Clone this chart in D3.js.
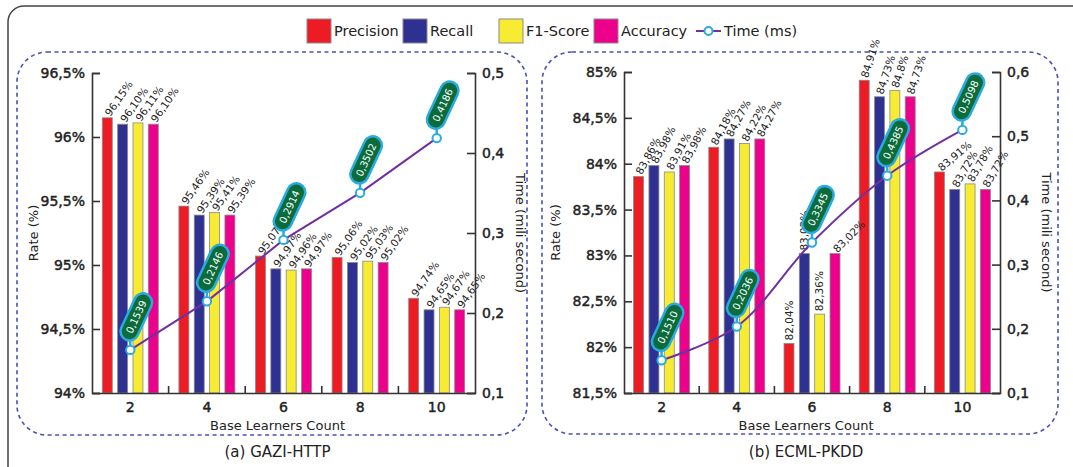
<!DOCTYPE html>
<html>
<head>
<meta charset="utf-8">
<script src="https://cdn.jsdelivr.net/npm/d3@7/dist/d3.min.js"></script>
<style>
  html, body { margin: 0; padding: 0; background: #fff; }
  svg { display: block; }
  text { font-family: "DejaVu Sans", sans-serif; fill: #222; }
</style>
</head>
<body>
<svg id="chart" width="1073" height="467"></svg>
<script>
// ---- data ----
const categories = ["2", "4", "6", "8", "10"];
const seriesNames = ["Precision", "Recall", "F1-Score", "Accuracy"];
const seriesColors = ["#ed1c24", "#2e3192", "#f7ec31", "#ec008c"];

// GAZI-HTTP (values as printed, comma decimal)
const gaziPrecision = ["96,15", "95,46", "95,07", "95,06", "94,74"];
const gaziRecall    = ["96,10", "95,39", "94,97", "95,02", "94,65"];
const gaziF1        = ["96,11", "95,41", "94,96", "95,03", "94,67"];
const gaziAccuracy  = ["96,10", "95,39", "94,97", "95,02", "94,65"];
const gaziTime      = [0.1539, 0.2146, 0.2914, 0.3502, 0.4186];

// ECML-PKDD
const ecmlPrecision = ["83,86", "84,18", "82,04", "84,91", "83,91"];
const ecmlRecall    = ["83,98", "84,27", "83,02", "84,73", "83,72"];
const ecmlF1        = ["83,91", "84,22", "82,36", "84,8",  "83,78"];
const ecmlAccuracy  = ["83,98", "84,27", "83,02", "84,73", "83,72"];
const ecmlTime      = [0.1510, 0.2036, 0.3345, 0.4385, 0.5098];

// axis ticks
const gaziRateTicks = [94, 94.5, 95, 95.5, 96, 96.5];
const gaziTimeTicks = [0.1, 0.2, 0.3, 0.4, 0.5];
const ecmlRateTicks = [81.5, 82, 82.5, 83, 83.5, 84, 84.5, 85];
const ecmlTimeTicks = [0.1, 0.2, 0.3, 0.4, 0.5, 0.6];

// ---- helpers ----
const parseVal = s => +s.replace(",", ".");
const pctFmt = v => String(v).replace(".", ",") + "%";
const timeTickFmt = v => d3.format(".1f")(v).replace(".", ",");
const timeLabelFmt = v => d3.format(".4f")(v).replace(".", ",");

const svg = d3.select("#chart");

// outer frame
svg.append("rect")
  .attr("x", 8).attr("y", 6).attr("width", 1090).attr("height", 490)
  .attr("rx", 16).attr("fill", "none").attr("stroke", "#444").attr("stroke-width", 1.5);

function drawPanel(cfg) {
  const g = svg.append("g");
  const x = d3.scaleBand().domain(categories).range([cfg.x0, cfg.x1]);
  const y = d3.scaleLinear().domain(cfg.rateDomain).range([cfg.yBottom, cfg.yTop]);
  const yT = d3.scaleLinear().domain(cfg.timeDomain).range([cfg.yBottom, cfg.yTop]);
  const sub = d3.scaleBand().domain(seriesNames).range([-28, 28]).paddingInner(0.35);

  // dashed panel box
  g.append("rect")
    .attr("x", cfg.box[0]).attr("y", cfg.box[1])
    .attr("width", cfg.box[2]).attr("height", cfg.box[3])
    .attr("rx", 30).attr("fill", "none")
    .attr("stroke", "#4a4fb8").attr("stroke-width", 1.6)
    .attr("stroke-dasharray", "4,3.5");

  // bars
  const series = cfg.series;
  const rows = [];
  categories.forEach((c, i) => {
    seriesNames.forEach((s, j) => {
      rows.push({ c, i, j, s, text: series[j][i], v: parseVal(series[j][i]) });
    });
  });
  const cx = c => x(c) + x.bandwidth() / 2;

  g.append("g").selectAll("rect").data(rows).join("rect")
    .attr("x", d => cx(d.c) + sub(d.s))
    .attr("y", d => y(d.v))
    .attr("width", sub.bandwidth())
    .attr("height", d => cfg.yBottom - y(d.v))
    .attr("fill", d => seriesColors[d.j])
    .attr("stroke", "#8a8a8a").attr("stroke-width", 0.8);

  // value labels above bars
  const fs = 10.5;
  g.append("g").selectAll("text").data(rows).join("text")
    .attr("font-size", fs)
    .attr("transform", d => {
      const a = cfg.angles[d.i][d.j];
      const r = a * Math.PI / 180;
      const vx = Math.sin(r), vy = -Math.cos(r);
      const bx = cx(d.c) + sub(d.s) + sub.bandwidth() / 2 - 0.35 * fs * vx;
      const by = y(d.v) - 3 - 0.35 * fs * vy;
      return `translate(${bx},${by}) rotate(${a})`;
    })
    .text(d => d.text + "%");

  // axes (value-axis ticks point inward)
  const axisL = g.append("g").attr("transform", `translate(${cfg.x0},0)`)
    .call(d3.axisLeft(y).tickValues(cfg.rateTicks).tickFormat(pctFmt).tickSizeOuter(0).tickSize(-8).tickPadding(7));
  const axisR = g.append("g").attr("transform", `translate(${cfg.x1},0)`)
    .call(d3.axisRight(yT).tickValues(cfg.timeTicks).tickFormat(timeTickFmt).tickSizeOuter(0).tickSize(-8).tickPadding(7));
  const axisB = g.append("g").attr("transform", `translate(0,${cfg.yBottom})`)
    .call(d3.axisBottom(x).tickSize(0).tickSizeOuter(0).tickPadding(9));
  [axisL, axisR, axisB].forEach(a => {
    a.selectAll("path.domain").attr("stroke", "#333").attr("stroke-width", 1.6);
    a.selectAll(".tick line").attr("stroke", "#333").attr("stroke-width", 1.6);
    a.selectAll(".tick text").attr("font-size", 14)
      .attr("font-family", "DejaVu Sans, sans-serif").attr("fill", "#222")
      .attr("stroke", "#222").attr("stroke-width", 0.45);
  });
  // inward boundary ticks between categories
  g.append("g").selectAll("line").data(categories.slice(1)).join("line")
    .attr("x1", c => x(c)).attr("x2", c => x(c))
    .attr("y1", cfg.yBottom).attr("y2", cfg.yBottom - 7)
    .attr("stroke", "#333").attr("stroke-width", 1.6);

  // axis titles
  g.append("text")
    .attr("transform", `translate(${cfg.rateTitleX},${(cfg.yTop + cfg.yBottom) / 2}) rotate(-90)`)
    .attr("text-anchor", "middle").attr("font-size", 13).text("Rate (%)");
  g.append("text")
    .attr("transform", `translate(${cfg.timeTitleX},${(cfg.yTop + cfg.yBottom) / 2}) rotate(90)`)
    .attr("text-anchor", "middle").attr("font-size", 13).text("Time (mili second)");
  g.append("text")
    .attr("x", (cfg.x0 + cfg.x1) / 2 - 6).attr("y", cfg.yBottom + 37)
    .attr("text-anchor", "middle").attr("font-size", 13).text("Base Learners Count");
  g.append("text")
    .attr("x", (cfg.x0 + cfg.x1) / 2 - 6).attr("y", cfg.yBottom + 64)
    .attr("text-anchor", "middle").attr("font-size", 15).text(cfg.title);

  // time line
  const pts = categories.map((c, i) => ({ c, t: cfg.time[i] }));
  const line = d3.line().x(d => cx(d.c)).y(d => yT(d.t)).curve(cfg.curve);
  g.append("path").datum(pts).attr("d", line)
    .attr("fill", "none").attr("stroke", "#7030a0").attr("stroke-width", 2);

  // callout stems, markers and value pills
  const callouts = g.append("g").selectAll("g").data(pts).join("g")
    .attr("transform", d => `translate(${cx(d.c)},${yT(d.t)})`);
  callouts.append("line").attr("x1", 0).attr("x2", 0).attr("y1", 0).attr("y2", -14)
    .attr("stroke", "#29abe2").attr("stroke-width", 2.5);
  callouts.append("circle").attr("r", 4.2)
    .attr("fill", "#fff").attr("stroke", "#29abe2").attr("stroke-width", 2);
  const pill = callouts.append("g").attr("transform", "translate(6,-33) rotate(-65)");
  pill.append("rect").attr("x", -25).attr("y", -9).attr("width", 50).attr("height", 18)
    .attr("rx", 9).attr("fill", "#0a6b3b").attr("stroke", "#29abe2").attr("stroke-width", 2.5);
  pill.append("text").attr("text-anchor", "middle").attr("dy", "0.35em")
    .attr("font-size", 10).style("fill", "#fff").text(d => timeLabelFmt(d.t));
}

const uniform = categories.map(() => seriesNames.map(() => -55));

drawPanel({
  title: "(a) GAZI-HTTP",
  x0: 92, x1: 475, yTop: 73, yBottom: 393,
  rateDomain: [94, 96.5], timeDomain: [0.1, 0.5],
  rateTicks: gaziRateTicks, timeTicks: gaziTimeTicks,
  series: [gaziPrecision, gaziRecall, gaziF1, gaziAccuracy],
  time: gaziTime, curve: d3.curveLinear,
  angles: uniform,
  box: [17, 52, 510, 383],
  rateTitleX: 38, timeTitleX: 516
});

drawPanel({
  title: "(b) ECML-PKDD",
  x0: 624, x1: 1000, yTop: 72, yBottom: 393,
  rateDomain: [81.5, 85], timeDomain: [0.1, 0.6],
  rateTicks: ecmlRateTicks, timeTicks: ecmlTimeTicks,
  series: [ecmlPrecision, ecmlRecall, ecmlF1, ecmlAccuracy],
  time: ecmlTime, curve: d3.curveCatmullRom,
  angles: [
    [-62, -62, -62, -62],
    [-62, -62, -62, -62],
    [-90, -90, -90, -45],
    [-72, -72, -72, -72],
    [-40, -60, -60, -60]
  ],
  box: [542, 52, 516, 382],
  rateTitleX: 560, timeTitleX: 1042
});

// legend
const legend = svg.append("g");
const legendX = [307, 403, 499, 594];
seriesNames.forEach((s, i) => {
  legend.append("rect").attr("x", legendX[i]).attr("y", 19).attr("width", 24).attr("height", 24)
    .attr("fill", seriesColors[i]).attr("stroke", "#8a8a8a").attr("stroke-width", 1);
  legend.append("text").attr("x", legendX[i] + 27).attr("y", 36)
    .attr("font-size", 14.5).text(s);
});
legend.append("line").attr("x1", 696).attr("x2", 721).attr("y1", 31).attr("y2", 31)
  .attr("stroke", "#7030a0").attr("stroke-width", 2);
legend.append("circle").attr("cx", 708.5).attr("cy", 31).attr("r", 4)
  .attr("fill", "#fff").attr("stroke", "#29abe2").attr("stroke-width", 2);
legend.append("text").attr("x", 724).attr("y", 36).attr("font-size", 14.5).text("Time (ms)");
</script>
</body>
</html>
